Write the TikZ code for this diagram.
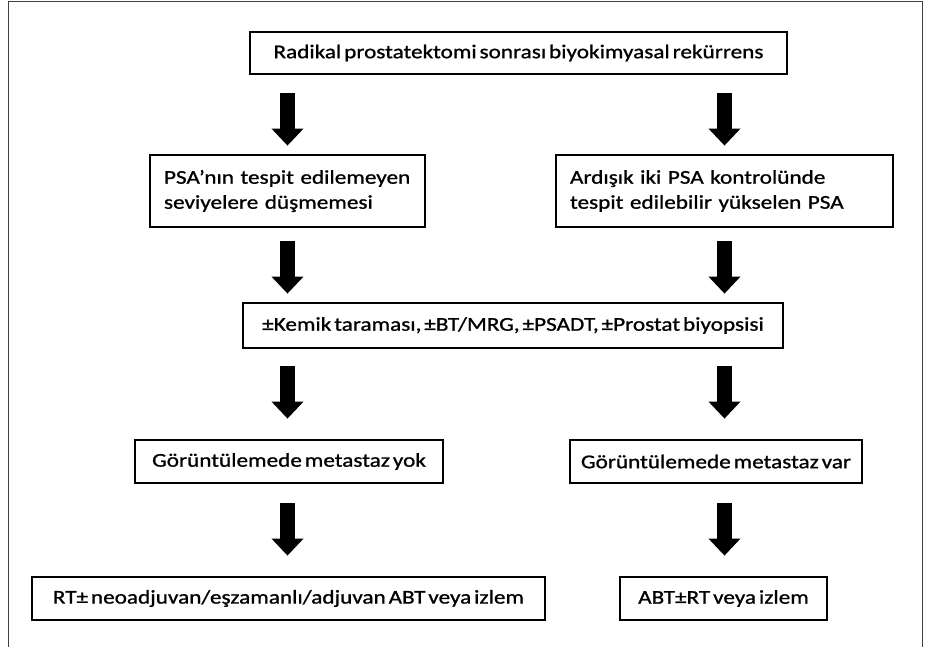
\documentclass[tikz,border=0pt]{standalone}
\usepackage{fontspec}
\setmainfont[FakeStretch=1.19,FakeBold=1,WordSpace=0.55]{Carlito}
\usetikzlibrary{arrows.meta,calc}
\begin{document}
\begin{tikzpicture}[x=1pt,y=-1pt,
		box/.style={draw,line width=2.8pt,inner sep=0pt,font=\fontsize{19.5}{25}\selectfont},
		twoline/.style={box,align=left,text width=#1-28pt,minimum width=#1,minimum height=72pt},
		blockarrow/.style={line width=15pt,-{Triangle[width=31pt,length=17pt]}}]
	\useasboundingbox (0,0) rectangle (930,647);
	\draw[line width=1pt,color=black!75] (8,647)-- (8,2)-- (922,2)-- (922,647);
	% boxes
	\node[box,minimum width=537pt,minimum height=42pt] (rec) at (518.5,53) {Radikal prostatektomi sonrası biyokimyasal rekürrens};
	\node[twoline=275pt] (psaL) at (287.5,191) {\mbox{PSA’nın tespit edilemeyen}\\seviyelere düşmemesi};
	\node[twoline=337pt] (psaR) at (724.5,191) {\mbox{Ardışık iki PSA kontrolünde}\\\mbox{tespit edilebilir yükselen PSA}};
	\node[box,minimum width=540pt,minimum height=45pt] (kemik) at (513,325.5) {±Kemik taraması, ±BT/MRG, ±PSADT, ±Prostat biyopsisi};
	\node[box,minimum width=308pt,minimum height=43pt] (yok) at (289,461.5) {Görüntülemede metastaz yok};
	\node[box,minimum width=292pt,minimum height=43pt] (var) at (716,461.5) {Görüntülemede metastaz var};
	\node[box,minimum width=513pt,minimum height=43pt] (rt) at (288.5,598.5) {RT± neoadjuvan/eşzamanlı/adjuvan ABT veya izlem};
	\node[box,minimum width=207pt,minimum height=43pt] (abt) at (723.5,598.5) {ABT±RT veya izlem};
	% arrows
	\draw[blockarrow] ($(rec.south -| psaL.north)+(0,18)$) -- ($(psaL.north)+(0,-8)$);
	\draw[blockarrow] ($(rec.south -| psaR.north)+(0,18)$) -- ($(psaR.north)+(0,-8)$);
	\draw[blockarrow] ($(psaL.south)+(0,13)$) -- ($(kemik.north -| psaL.south)+(0,-8)$);
	\draw[blockarrow] ($(psaR.south)+(0,13)$) -- ($(kemik.north -| psaR.south)+(0,-8)$);
	\draw[blockarrow] ($(kemik.south -| psaL.south)+(0,17)$) -- ($(yok.north -| psaL.south)+(0,-20)$);
	\draw[blockarrow] ($(kemik.south -| psaR.south)+(0,17)$) -- ($(var.north -| psaR.south)+(0,-20)$);
	\draw[blockarrow] ($(yok.south -| psaL.south)+(0,19)$) -- ($(rt.north -| psaL.south)+(0,-20)$);
	\draw[blockarrow] ($(var.south -| psaR.south)+(0,19)$) -- ($(abt.north -| psaR.south)+(0,-20)$);
\end{tikzpicture}
\end{document}
